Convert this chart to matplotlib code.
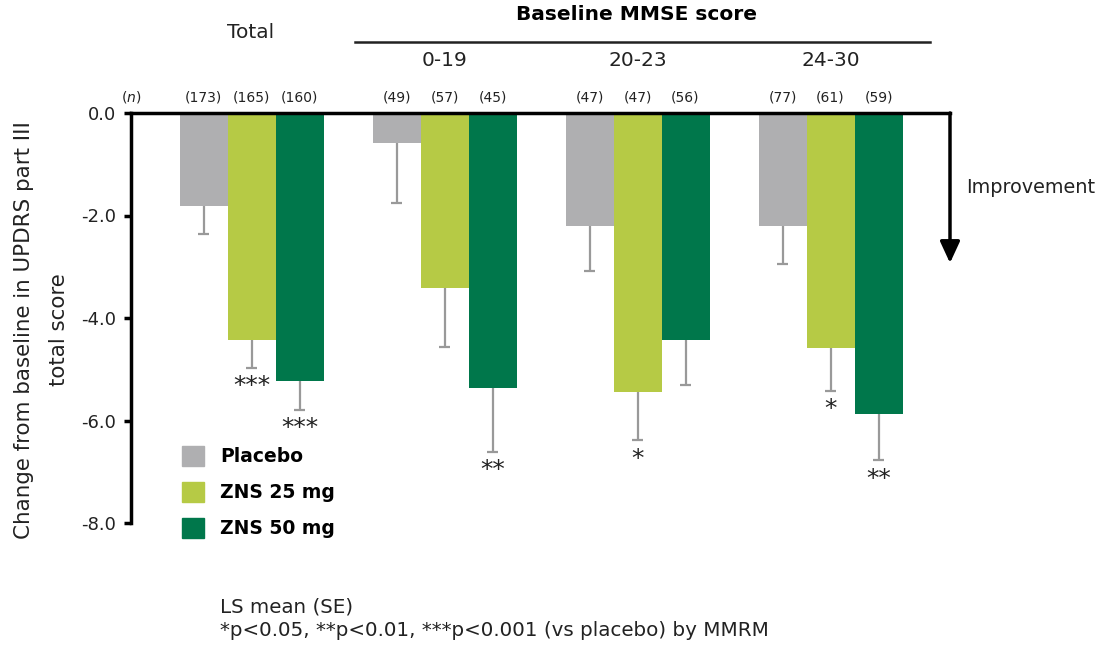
import matplotlib
matplotlib.use("Agg")
import matplotlib.pyplot as plt
import numpy as np

plt.rcParams['font.family'] = ['DejaVu Sans']

groups = ['Total', '0-19', '20-23', '24-30']
series_names = ['Placebo', 'ZNS 25 mg', 'ZNS 50 mg']
placebo = [-1.82, -0.58, -2.20, -2.20]
zns25 = [-4.42, -3.42, -5.45, -4.58]
zns50 = [-5.22, -5.36, -4.42, -5.88]
se_placebo = [0.54, 1.17, 0.89, 0.75]
se_zns25 = [0.55, 1.14, 0.94, 0.85]
se_zns50 = [0.57, 1.25, 0.88, 0.90]
n_placebo = [173, 49, 47, 77]
n_zns25 = [165, 57, 47, 61]
n_zns50 = [160, 45, 56, 59]
stars_zns25 = ['***', '', '*', '*']
stars_zns50 = ['***', '**', '', '**']
yticks = [0.0, -2.0, -4.0, -6.0, -8.0]

colors = ['#AFAFB1', '#B6CA45', '#00774B']
err_color = '#999999'

W, H = 1102, 645
fig = plt.figure(figsize=(W / 100, H / 100), dpi=100)

def fx(px):
    return px / W

def fy(py):
    return 1 - py / H

ax_left, ax_right, ax_top, ax_bot = 131, 950, 113, 523
ax = fig.add_axes([fx(ax_left), fy(ax_bot), fx(ax_right - ax_left), (ax_bot - ax_top) / H])

spacing = 193.0
bw = 48.0 / spacing
center0 = 251.5
x = np.arange(len(groups))
ax.set_xlim((ax_left - center0) / spacing, (ax_right - center0) / spacing)
ax.set_ylim(-8, 0)

vals = [placebo, zns25, zns50]
ses = [se_placebo, se_zns25, se_zns50]
ns = [n_placebo, n_zns25, n_zns50]
stars = [None, stars_zns25, stars_zns50]

cap_half = 0.028
for i in range(3):
    xs = x + (i - 1) * bw
    v = np.array(vals[i])
    lo = v - np.array(ses[i])
    ax.bar(xs, v, width=bw, color=colors[i], edgecolor='none', zorder=2,
           label=series_names[i])
    ax.vlines(xs, v, lo, color=err_color, lw=1.6, zorder=1)
    ax.hlines(lo, xs - cap_half, xs + cap_half, color=err_color, lw=1.6, zorder=1)
    for j in range(len(groups)):
        ax.text(xs[j], 0.3, f'({ns[i][j]})', ha='center', va='center',
                fontsize=10, color='#222222', clip_on=False)
        if stars[i] is not None and stars[i][j]:
            ax.annotate(stars[i][j], xy=(xs[j], lo[j]),
                        xytext=(0, -13), textcoords='offset points',
                        ha='center', va='center', fontsize=18, color='#222222',
                        annotation_clip=False)

# axes styling
for s in ['right', 'bottom']:
    ax.spines[s].set_visible(False)
ax.spines['left'].set_linewidth(2.5)
ax.spines['top'].set_linewidth(2.5)
ax.spines['left'].set_bounds(-8, 0)
ax.set_xticks([])
ax.set_yticks(yticks)
ax.set_yticklabels([f'{v:.1f}' for v in yticks], fontsize=13, color='#222222')
ax.tick_params(axis='y', direction='out', length=5, width=2.5, pad=6)

# y label (two lines)
fig.text(fx(24), fy(330), 'Change from baseline in UPDRS part III', rotation=90,
         fontsize=15.4, ha='center', va='center', color='#222222')
fig.text(fx(59), fy(330), 'total score', rotation=90,
         fontsize=15.4, ha='center', va='center', color='#222222')

# (n) label
fig.text(fx(131), fy(97), '($n$)', fontsize=10, ha='center', va='center', color='#222222')

# Improvement arrow
tip_frac = 1 - (263 - ax_top) / (ax_bot - ax_top)
ax.annotate('', xy=(1.0, tip_frac), xytext=(1.0, 1.0), xycoords='axes fraction',
            arrowprops=dict(arrowstyle='-|>,head_length=1.3,head_width=0.6',
                            lw=2.5, color='black', shrinkA=0, shrinkB=0),
            annotation_clip=False)
fig.text(fx(966), fy(188), 'Improvement', fontsize=13.9, ha='left', va='center', color='#222222')

# header texts
fig.text(fx(251), fy(32), groups[0], fontsize=14.5, ha='center', va='center', color='#222222')
fig.text(fx(636), fy(15), 'Baseline MMSE score', fontsize=14.5, fontweight='bold',
         ha='center', va='center', color='black')
fig.add_artist(plt.Line2D([fx(355), fx(930)], [fy(42), fy(42)], color='#222222', lw=1.8))
for j in range(1, len(groups)):
    fig.text(fx(center0 + spacing * j), fy(60), groups[j], fontsize=14.5, ha='center',
             va='center', color='#222222')

# legend
leg_y = [456, 492, 528]
for i in range(3):
    fig.patches.append(plt.Rectangle((fx(182), fy(leg_y[i] + 10)), fx(22), 20 / H,
                                     transform=fig.transFigure, color=colors[i]))
    fig.text(fx(220), fy(leg_y[i]), series_names[i], fontsize=13.5, fontweight='bold',
             ha='left', va='center', color='black')

# footnote
fig.text(fx(220), fy(607), 'LS mean (SE)', fontsize=14.3, ha='left', va='center', color='#222222')
fig.text(fx(220), fy(630), '*p<0.05, **p<0.01, ***p<0.001 (vs placebo) by MMRM',
         fontsize=14.3, ha='left', va='center', color='#222222')

fig.savefig('out.png', dpi=100)
